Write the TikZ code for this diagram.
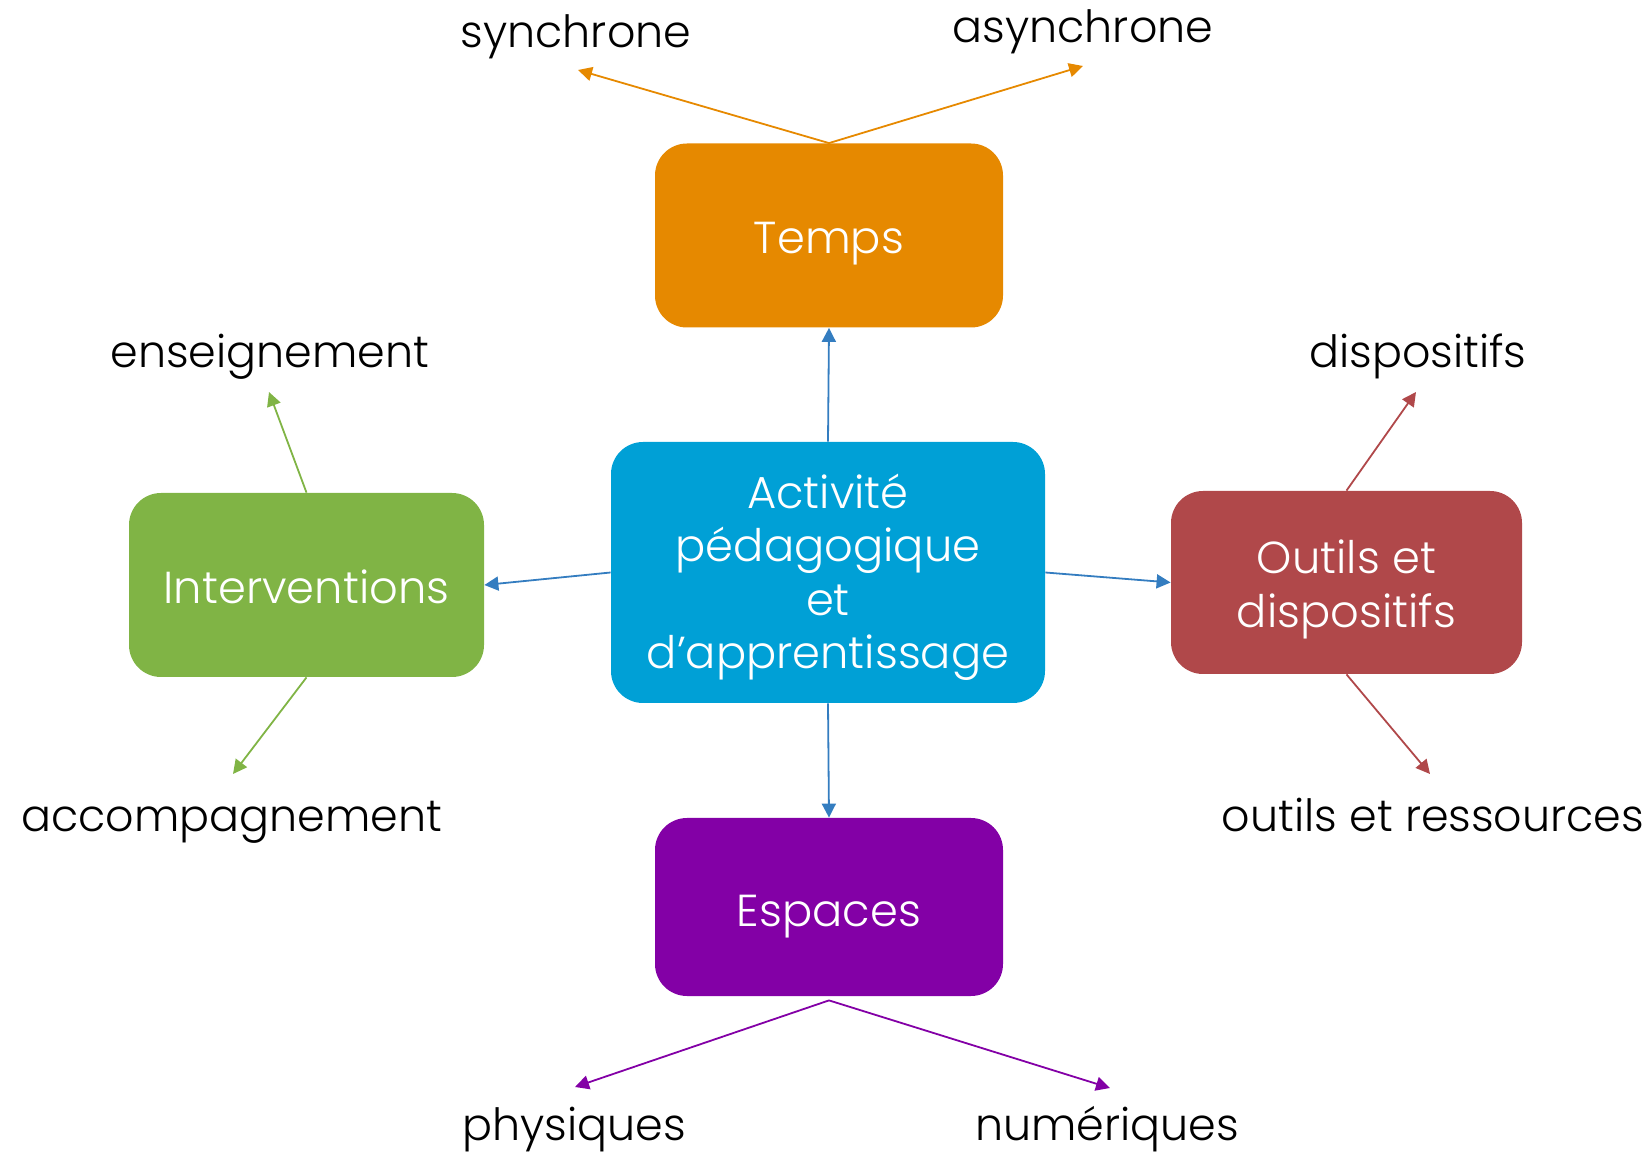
\documentclass[tikz,border=0pt]{standalone}
\usepackage{fontspec}
\setmainfont{Poppins}[UprightFont=* Light]
\usetikzlibrary{arrows.meta}
\definecolor{cTemps}{RGB}{230,137,0}
\definecolor{cAct}{RGB}{0,160,214}
\definecolor{cInter}{RGB}{128,180,69}
\definecolor{cOutils}{RGB}{176,72,74}
\definecolor{cEsp}{RGB}{131,0,166}
\definecolor{cLink}{RGB}{52,125,192}
\tikzset{
  box/.style={rounded corners=16pt, inner sep=0pt},
  boxtext/.style={text=white, align=center, inner sep=0pt,
    font=\fontsize{22.4}{26.8}\selectfont},
  leaf/.style={anchor=base, inner sep=0pt, text=black, font=\fontsize{22.2}{26.5}\selectfont},
  link/.style={line width=0.9pt, -{Triangle[length=7pt,width=7pt]}},
}
\begin{document}
\begin{tikzpicture}[x=0.5pt, y=-0.5pt]
  \useasboundingbox (0,0) rectangle (1645,1154);

  % central activity and the four dimensions
  \node[box, fill=cAct, minimum width=217pt, minimum height=130.5pt,
    label={[boxtext, yshift=-2.4pt]center:Activité\\pédagogique\\et\\d’apprentissage}] (act) at (828,572.5) {};
  \node[box, fill=cTemps, minimum width=174pt, minimum height=92pt,
    label={[boxtext, yshift=-4.2pt]center:Temps}] (temps) at (829,235.5) {};
  \node[box, fill=cInter, minimum width=177.5pt, minimum height=92pt,
    label={[boxtext, yshift=-1pt]center:Interventions}] (inter) at (306.5,585) {};
  \node[box, fill=cOutils, minimum width=175.5pt, minimum height=91.5pt,
    label={[boxtext, yshift=-3.4pt]center:Outils et\\dispositifs}] (outils) at (1346.5,582.5) {};
  \node[box, fill=cEsp, minimum width=174pt, minimum height=89pt,
    label={[boxtext, yshift=-4.7pt]center:Espaces}] (esp) at (829,907) {};

  % arrow tips towards the labels
  \coordinate (tSync) at (578,70);
  \coordinate (tAsync) at (1083,66);
  \coordinate (tEns) at (269,392);
  \coordinate (tAcc) at (233,774);
  \coordinate (tDisp) at (1416,392);
  \coordinate (tOutR) at (1430,774);
  \coordinate (tPhys) at (575,1087);
  \coordinate (tNum) at (1110,1088);

  % labels
  \node[leaf] (lSync) at (576,48) {synchrone};
  \node[leaf] (lAsync) at (1083,43) {asynchrone};
  \node[leaf] (lEns) at (270,368) {enseignement};
  \node[leaf] (lDisp) at (1418,368) {dispositifs};
  \node[leaf] (lAcc) at (232,832) {accompagnement};
  \node[leaf] (lOutR) at (1433,832) {outils et ressources};
  \node[leaf] (lPhys) at (574,1140) {physiques};
  \node[leaf] (lNum) at (1107,1140) {numériques};

  % links from the centre
  \draw[link, cLink] (act.north) -- (temps.south);
  \draw[link, cLink] (act.south) -- (esp.north);
  \draw[link, cLink] (act.west) -- (inter.east);
  \draw[link, cLink] (act.east) -- (outils.west);

  % branches of each dimension
  \draw[link, cTemps] (temps.north) -- (tSync);
  \draw[link, cTemps] (temps.north) -- (tAsync);
  \draw[link, cInter] (inter.north) -- (tEns);
  \draw[link, cInter] (inter.south) -- (tAcc);
  \draw[link, cOutils] (outils.north) -- (tDisp);
  \draw[link, cOutils] (outils.south) -- (tOutR);
  \draw[link, cEsp] ([yshift=-2pt]esp.south) -- (tPhys);
  \draw[link, cEsp] ([yshift=-2pt]esp.south) -- (tNum);
\end{tikzpicture}
\end{document}
